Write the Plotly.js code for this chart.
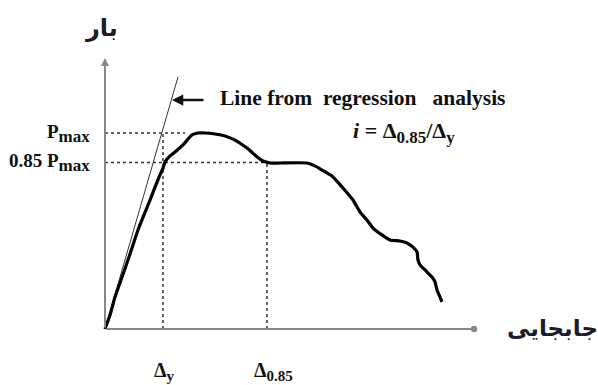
<!DOCTYPE html>
<html>
<head>
<meta charset="utf-8">
<script src="https://cdn.plot.ly/plotly-3.0.1.min.js"></script>
<style>html,body{margin:0;padding:0;background:#fff;}#chart{width:598px;height:385px;}</style>
</head>
<body>
<div id="chart"></div>
<script>
// Load–displacement curve (displacement in arbitrary units, load in % of Pmax)
const displacement = [0, 0.5, 1.0, 1.6, 2.3, 2.8, 3.3, 3.9, 4.5, 5.0, 5.5, 5.8, 6.0, 6.5, 7.0, 7.8, 8.7, 9.3, 10.0, 11.0, 12.0, 13.0, 14.2, 15.1, 15.8, 16.5, 17.5, 20.2, 21.0, 21.7, 22.8, 23.8, 24.8, 25.5, 26.2, 26.8, 27.7, 28.5, 29.5, 30.2, 30.8, 31.2, 31.3, 31.5, 32.1, 32.7, 33.0, 33.2, 33.5, 33.7];
const load = [0, 7.1, 16.3, 25.0, 35.2, 42.9, 50.5, 58.2, 65.8, 72.4, 78.6, 82.1, 85.2, 88.3, 90.3, 93.9, 99.0, 100, 100, 99.5, 98.5, 96.4, 92.3, 88.3, 85.7, 84.7, 84.7, 84.7, 83.2, 81.1, 77.6, 71.9, 65.8, 59.7, 55.6, 51.5, 48.0, 45.4, 44.9, 43.9, 41.8, 39.3, 35.2, 32.7, 29.6, 26.5, 24.0, 19.9, 16.3, 13.8];
// Regression line
const regX = [0, 7.3];
const regY = [0, 128.6];
// Key values
const pmax = 100;
const p085 = 85;
const deltaY = 5.8;
const delta085 = 16.2;
const pmaxGuideEnd = 8.0;
const xAxisEnd = 36.9;
const yAxisEnd = 138.3;
// Labels
const yTickLabels = ['P<sub><span style="font-size:17px">max</span></sub>', '0.85 P<sub><span style="font-size:17px">max</span></sub>'];
const xTickLabels = ['Δ<sub><span style="font-size:15px">y</span></sub>', 'Δ<sub><span style="font-size:15px">0.85</span></sub>'];
const yTitle = 'بار';
const xTitle = 'جابجایی';
const regLabel = 'Line from\u00a0 regression\u00a0\u00a0\u00a0analysis';
const formula = '<i>i</i> = Δ<sub><span style="font-size:17px">0.85</span></sub>/Δ<sub><span style="font-size:17px">y</span></sub>';

const serif = 'Liberation Serif, Times New Roman, serif';
const dotted = {color: '#333', width: 1.5, dash: 'dot'};

const traces = [
  {x: [0, pmaxGuideEnd], y: [pmax, pmax], mode: 'lines', line: dotted},
  {x: [0, delta085], y: [p085, p085], mode: 'lines', line: dotted},
  {x: [deltaY, deltaY], y: [0, pmax], mode: 'lines', line: dotted},
  {x: [delta085, delta085], y: [0, p085], mode: 'lines', line: dotted},
  {x: regX, y: regY, mode: 'lines', line: {color: '#333', width: 1}},
  {x: displacement, y: load, mode: 'lines', line: {color: '#000', width: 3.2, shape: 'spline', smoothing: 0.5}}
];

const annotations = [
  // axes
  {x: 0, y: yAxisEnd, ax: 0, ay: 0, xref: 'x', yref: 'y', axref: 'x', ayref: 'y', text: '', showarrow: true, arrowhead: 2, arrowsize: 0.8, arrowwidth: 2, arrowcolor: '#888'},
  {x: xAxisEnd, y: 0, ax: 0, ay: 0, xref: 'x', yref: 'y', axref: 'x', ayref: 'y', text: '', showarrow: true, arrowhead: 6, arrowsize: 0.8, arrowwidth: 2, arrowcolor: '#888'},
  // regression label arrow
  {x: 6.7, y: 116.8, ax: 10.0, ay: 116.8, xref: 'x', yref: 'y', axref: 'x', ayref: 'y', text: '', showarrow: true, arrowhead: 2, arrowsize: 0.9, arrowwidth: 2.5, arrowcolor: '#111'},
  {x: 11.3, y: 117.9, xref: 'x', yref: 'y', text: '<b>' + regLabel + '</b>', showarrow: false, xanchor: 'left', yanchor: 'middle', font: {family: serif, size: 21.5, color: '#111'}},
  {x: 29.9, y: 100.5, xref: 'x', yref: 'y', text: '<b>' + formula + '</b>', showarrow: false, xanchor: 'center', yanchor: 'middle', font: {family: serif, size: 22, color: '#111'}},
  // y tick labels
  {x: -1.3, y: pmax, xref: 'x', yref: 'y', text: '<b>' + yTickLabels[0] + '</b>', showarrow: false, xanchor: 'right', yanchor: 'middle', font: {family: serif, size: 19, color: '#111'}},
  {x: -1.3, y: p085, xref: 'x', yref: 'y', text: '<b>' + yTickLabels[1] + '</b>', showarrow: false, xanchor: 'right', yanchor: 'middle', font: {family: serif, size: 19, color: '#111'}},
  // x tick labels
  {x: 5.9, y: -21.5, xref: 'x', yref: 'y', text: '<b>' + xTickLabels[0] + '</b>', showarrow: false, xanchor: 'center', yanchor: 'middle', font: {family: serif, size: 20, color: '#111'}},
  {x: 16.8, y: -21.5, xref: 'x', yref: 'y', text: '<b>' + xTickLabels[1] + '</b>', showarrow: false, xanchor: 'center', yanchor: 'middle', font: {family: serif, size: 20, color: '#111'}},
  // axis titles
  {x: -0.4, y: 153.6, xref: 'x', yref: 'y', text: '<b>' + yTitle + '</b>', showarrow: false, xanchor: 'center', yanchor: 'middle', font: {family: 'DejaVu Sans', size: 24, color: '#1b1b2a'}},
  {x: 44.7, y: 0.5, xref: 'x', yref: 'y', text: '<b>' + xTitle + '</b>', showarrow: false, xanchor: 'center', yanchor: 'middle', font: {family: 'DejaVu Sans', size: 23, color: '#1b1b2a'}}
];

const layout = {
  width: 598, height: 385,
  margin: {l: 0, r: 0, t: 0, b: 0},
  paper_bgcolor: '#fff', plot_bgcolor: '#fff',
  showlegend: false,
  xaxis: {range: [-10.5, 49.3], visible: false, fixedrange: true},
  yaxis: {range: [-28.57, 167.86], visible: false, fixedrange: true},
  annotations: annotations
};

Plotly.newPlot('chart', traces, layout, {staticPlot: true});
</script>
</body>
</html>
